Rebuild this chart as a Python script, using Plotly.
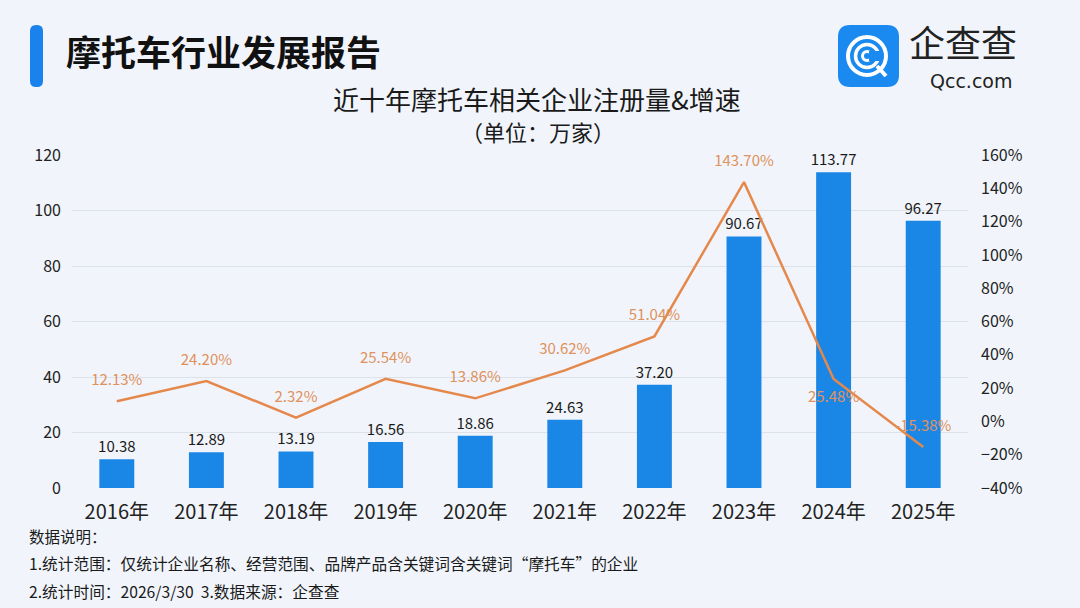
import plotly.graph_objects as go

years = ["2016年", "2017年", "2018年", "2019年", "2020年", "2021年", "2022年", "2023年", "2024年", "2025年"]
registrations = [10.38, 12.89, 13.19, 16.56, 18.86, 24.63, 37.20, 90.67, 113.77, 96.27]
growth = [12.13, 24.20, 2.32, 25.54, 13.86, 30.62, 51.04, 143.70, 25.48, -15.38]
growth_positions = ["top center"] * 8 + ["bottom center", "top center"]

FONT = "Noto Sans CJK SC"
W, H = 1080, 608
L, R, T, B = 72, 968, 155, 488


def px(x):
    return (x - L) / (R - L)


def py(y):
    return (B - y) / (B - T)


def rounded(x0, x1, y0, y1, r):
    return (f"M {px(x0+r)} {py(y0)} L {px(x1-r)} {py(y0)} Q {px(x1)} {py(y0)} {px(x1)} {py(y0+r)} "
            f"L {px(x1)} {py(y1-r)} Q {px(x1)} {py(y1)} {px(x1-r)} {py(y1)} "
            f"L {px(x0+r)} {py(y1)} Q {px(x0)} {py(y1)} {px(x0)} {py(y1-r)} "
            f"L {px(x0)} {py(y0+r)} Q {px(x0)} {py(y0)} {px(x0+r)} {py(y0)} Z")


fig = go.Figure()
fig.add_trace(go.Bar(
    x=years, y=registrations,
    marker=dict(color="#1A87E6", line=dict(width=0)),
    text=[f"{v:.2f}" for v in registrations],
    textposition="outside",
    constraintext="none",
    textfont=dict(family=FONT, size=15, color="#1a1a1a"),
    cliponaxis=False,
    hoverinfo="skip",
    name="注册量",
))
fig.add_trace(go.Scatter(
    x=years, y=growth, yaxis="y2",
    mode="lines+markers+text",
    line=dict(color="#E5884C", width=2.5),
    marker=dict(size=18, color="rgba(0,0,0,0)"),
    text=[f"{v:.2f}%" for v in growth],
    textposition=growth_positions,
    textfont=dict(family=FONT, size=15, color="#E0915C"),
    cliponaxis=False,
    hoverinfo="skip",
    name="增速",
))

shapes = []
shapes.append(dict(type="path", xref="paper", yref="paper", path=rounded(30, 43, 25, 87, 6),
                   fillcolor="#1A82EC", line=dict(width=0), layer="above"))
shapes.append(dict(type="path", xref="paper", yref="paper", path=rounded(838, 899, 25, 87, 12),
                   fillcolor="#1B8AF0", line=dict(width=0), layer="above"))
cx, cy = 867, 56
for rad, lw in [(19, 4), (11.5, 3.5), (4.5, 3)]:
    shapes.append(dict(type="circle", xref="paper", yref="paper",
                       x0=px(cx - rad), x1=px(cx + rad), y0=py(cy + rad), y1=py(cy - rad),
                       line=dict(color="white", width=lw), fillcolor="rgba(0,0,0,0)", layer="above"))
shapes.append(dict(type="rect", xref="paper", yref="paper",
                   x0=px(869), x1=px(881), y0=py(61), y1=py(51),
                   fillcolor="#1B8AF0", line=dict(width=0), layer="above"))
shapes.append(dict(type="line", xref="paper", yref="paper",
                   x0=px(877), y0=py(66), x1=px(886), y1=py(76),
                   line=dict(color="white", width=4), layer="above"))

annotations = [
    dict(text="<b>摩托车行业发展报告</b>", x=px(64), y=py(51), xref="paper", yref="paper",
         xanchor="left", yanchor="middle", showarrow=False,
         font=dict(family=FONT, size=35, color="#111111")),
    dict(text="近十年摩托车相关企业注册量&增速", x=px(537), y=py(98), xref="paper", yref="paper",
         xanchor="center", yanchor="middle", showarrow=False,
         font=dict(family=FONT, size=26, color="#1a1a1a")),
    dict(text="（单位：万家）", x=px(538), y=py(131), xref="paper", yref="paper",
         xanchor="center", yanchor="middle", showarrow=False,
         font=dict(family=FONT, size=22, color="#1a1a1a")),
    dict(text="企查查", x=px(907), y=py(41), xref="paper", yref="paper",
         xanchor="left", yanchor="middle", showarrow=False,
         font=dict(family=FONT, size=36, color="#222222")),
    dict(text="Qcc.com", x=px(971), y=py(81), xref="paper", yref="paper",
         xanchor="center", yanchor="middle", showarrow=False,
         font=dict(family="DejaVu Sans", size=19, color="#222222")),
    dict(text="数据说明：", x=px(27), y=py(536), xref="paper", yref="paper",
         xanchor="left", yanchor="middle", showarrow=False,
         font=dict(family=FONT, size=15.5, color="#1a1a1a")),
    dict(text="1.统计范围：仅统计企业名称、经营范围、品牌产品含关键词含关键词“摩托车”的企业", x=px(27), y=py(563),
         xref="paper", yref="paper", xanchor="left", yanchor="middle", showarrow=False,
         font=dict(family=FONT, size=15.7, color="#1a1a1a")),
    dict(text="2.统计时间：2026/3/30  3.数据来源：企查查", x=px(27), y=py(591),
         xref="paper", yref="paper", xanchor="left", yanchor="middle", showarrow=False,
         font=dict(family=FONT, size=15.7, color="#1a1a1a")),
]

fig.update_layout(
    width=W, height=H,
    margin=dict(l=L, r=W - R, t=T, b=H - B, pad=0),
    paper_bgcolor="#F1F5FB", plot_bgcolor="rgba(0,0,0,0)",
    showlegend=False,
    bargap=0.61,
    font=dict(family=FONT, color="#222222"),
    xaxis=dict(range=[-0.5, len(years) - 0.5], showgrid=False, showline=False, zeroline=False, ticks="",
               tickfont=dict(family=FONT, size=20, color="#222222"), ticklabelstandoff=10),
    yaxis=dict(range=[0, 120], dtick=20, showgrid=True, gridcolor="#DCE2EA", gridwidth=1,
               zeroline=False, showline=False, ticks="",
               tickfont=dict(family=FONT, size=16, color="#222222"), ticklabelstandoff=10),
    yaxis2=dict(range=[-40, 160], dtick=20, overlaying="y", side="right", showgrid=False,
                zeroline=False, showline=False, ticks="", ticksuffix="%",
                tickfont=dict(family=FONT, size=16, color="#222222"), ticklabelstandoff=12),
    shapes=shapes,
    annotations=annotations,
)

fig.write_html("out.html", config={"displayModeBar": False},
               post_script="document.body.style.margin='0';document.body.style.padding='0';document.body.style.background='#F1F5FB';")
